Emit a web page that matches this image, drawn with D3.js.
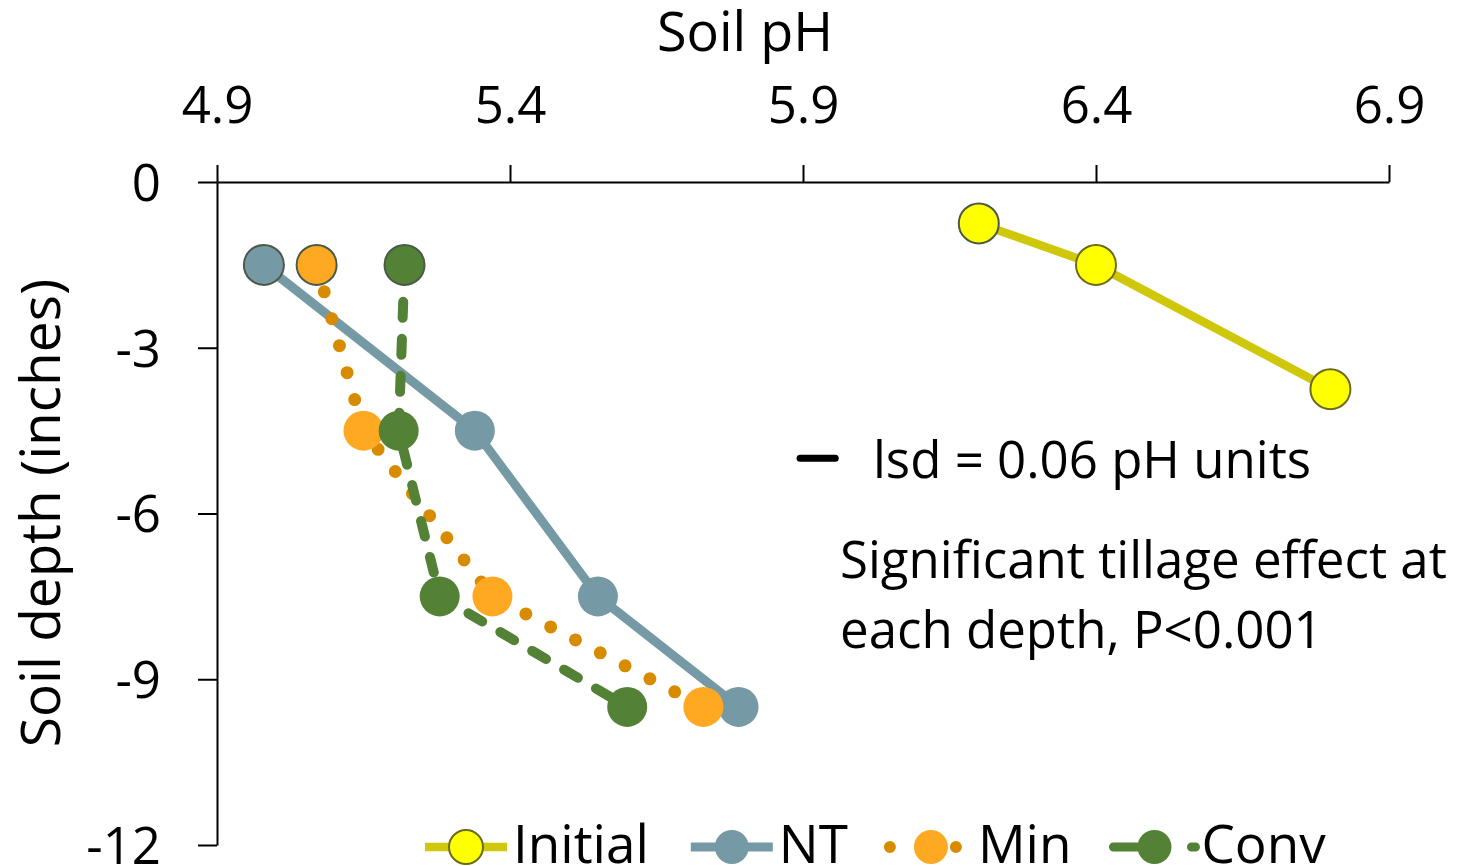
<!DOCTYPE html>
<html>
<head>
<meta charset="utf-8">
<title>Soil pH by depth</title>
<script src="https://d3js.org/d3.v7.min.js"></script>
<style>
  body { margin: 0; background: #fff; }
  text { font-family: "Open Sans", sans-serif; fill: #000; }
</style>
</head>
<body>
<script>

// depths in inches (negative = below surface)
let depthsInitial = [-0.75, -1.5, -3.75];
let depthsTillage = [-1.5, -4.5, -7.5, -9.5];

// soil pH
let phInitial = [6.2, 6.4, 6.8];
let phNT = [4.98, 5.34, 5.55, 5.79];
let phMin = [5.07, 5.15, 5.37, 5.73];
let phConv = [5.22, 5.21, 5.28, 5.6];

let xTicks = [4.9, 5.4, 5.9, 6.4, 6.9];
let yTicks = [0, -3, -6, -9, -12];

let lsdRange = [5.895, 5.955];
let lsdDepth = -5;

let seriesNames = ["Initial", "NT", "Min", "Conv"];

let width = 1462, height = 866;

let svg = d3.select("body").append("svg")
    .attr("width", width)
    .attr("height", height);

let x = d3.scaleLinear().domain([4.9, 6.9]).range([217, 1389]);
let y = d3.scaleLinear().domain([0, -12]).range([182, 845]);

// styles per series
let styles = {
    "Initial": { line: "#cfc70a", fill: "#ffff00", stroke: "#6b6b1b", width: 8.5, dash: null, cap: "butt" },
    "NT":      { line: "#7699a6", fill: "#7699a6", stroke: "#44584a", width: 9, dash: null, cap: "butt" },
    "Min":     { line: "#d98b00", fill: "#ffa922", stroke: "#44584a", width: 13, dash: "0 28", cap: "round" },
    "Conv":    { line: "#538135", fill: "#538135", stroke: "#44584a", width: 10, dash: "16 21", cap: "round" }
};

let series = [
    { name: "Initial", values: phInitial.map((v, i) => ({ ph: v, depth: depthsInitial[i] })) },
    { name: "NT",      values: phNT.map((v, i) => ({ ph: v, depth: depthsTillage[i] })) },
    { name: "Min",     values: phMin.map((v, i) => ({ ph: v, depth: depthsTillage[i] })) },
    { name: "Conv",    values: phConv.map((v, i) => ({ ph: v, depth: depthsTillage[i] })) }
];

// axes
let xAxis = d3.axisTop(x)
    .tickValues(xTicks)
    .tickFormat(d3.format(".1f"))
    .tickSize(17)
    .tickSizeOuter(0)
    .tickPadding(42);

let yAxis = d3.axisLeft(y)
    .tickValues(yTicks)
    .tickFormat(d => d3.format("d")(d).replace("−", "-"))
    .tickSize(19)
    .tickSizeOuter(0)
    .tickPadding(37);

let gx = svg.append("g").attr("transform", "translate(0," + y(0) + ")").call(xAxis);
let gy = svg.append("g").attr("transform", "translate(" + x(4.9) + ",0)").call(yAxis);

[gx, gy].forEach(g => {
    g.selectAll("path, line").attr("stroke", "#000").attr("stroke-width", 2);
    g.selectAll("text")
        .attr("font-family", "Open Sans")
        .attr("font-size", 51)
        .attr("fill", "#000");
});
gy.selectAll("text").attr("dy", "0.36em");

// titles
svg.append("text")
    .attr("x", 745).attr("y", 51)
    .attr("text-anchor", "middle")
    .attr("font-size", 54)
    .text("Soil pH");

svg.append("text")
    .attr("transform", "translate(60,513) rotate(-90)")
    .attr("text-anchor", "middle")
    .attr("font-size", 55)
    .text("Soil depth (inches)");

// series
let line = d3.line().x(d => x(d.ph)).y(d => y(d.depth));

series.forEach(s => {
    let st = styles[s.name];
    let g = svg.append("g");
    g.append("path")
        .datum(s.values)
        .attr("d", line)
        .attr("fill", "none")
        .attr("stroke", st.line)
        .attr("stroke-width", st.width)
        .attr("stroke-linecap", st.cap)
        .attr("stroke-linejoin", "round")
        .attr("stroke-dasharray", st.dash);
    g.selectAll("circle")
        .data(s.values)
        .join("circle")
        .attr("cx", d => x(d.ph))
        .attr("cy", d => y(d.depth))
        .attr("r", 20)
        .attr("fill", st.fill)
        .attr("stroke", (d, i) => (s.name === "Initial" || i === 0) ? (i === 0 ? "#4a5a48" : st.stroke) : "none")
        .attr("stroke-width", 2);
});

// lsd bar and notes
svg.append("line")
    .attr("x1", x(lsdRange[0])).attr("x2", x(lsdRange[1]))
    .attr("y1", y(lsdDepth)).attr("y2", y(lsdDepth))
    .attr("stroke", "#000")
    .attr("stroke-width", 7)
    .attr("stroke-linecap", "round");

svg.append("text")
    .attr("x", 873).attr("y", 478)
    .attr("font-size", 51)
    .text("lsd = 0.06 pH units");

svg.append("text")
    .attr("x", 840).attr("y", 578)
    .attr("font-size", 51)
    .text("Significant tillage effect at");

svg.append("text")
    .attr("x", 840).attr("y", 648)
    .attr("font-size", 51)
    .text("each depth, P<0.001");

// legend (cut off at the bottom edge, as in the original)
let legend = svg.append("g");
let lx = 425, ly = 847;
seriesNames.forEach(name => {
    let st = styles[name];
    let item = legend.append("g").attr("transform", "translate(" + lx + "," + ly + ")");
    item.append("line")
        .attr("x1", 0).attr("x2", 82)
        .attr("stroke", st.line)
        .attr("stroke-width", name === "Min" ? 12 : (name === "Conv" ? 9 : st.width))
        .attr("stroke-linecap", st.cap)
        .attr("stroke-dasharray", name === "Min" ? "0 66" : (name === "Conv" ? "24 54" : null));
    item.append("circle")
        .attr("cx", 41).attr("r", 17)
        .attr("fill", st.fill)
        .attr("stroke", name === "Initial" ? st.stroke : "none")
        .attr("stroke-width", 2);
    let t = item.append("text")
        .attr("x", 88).attr("y", 16)
        .attr("font-size", 53)
        .text(name);
    lx += 88 + t.node().getComputedTextLength() + 42;
});

</script>
</body>
</html>
